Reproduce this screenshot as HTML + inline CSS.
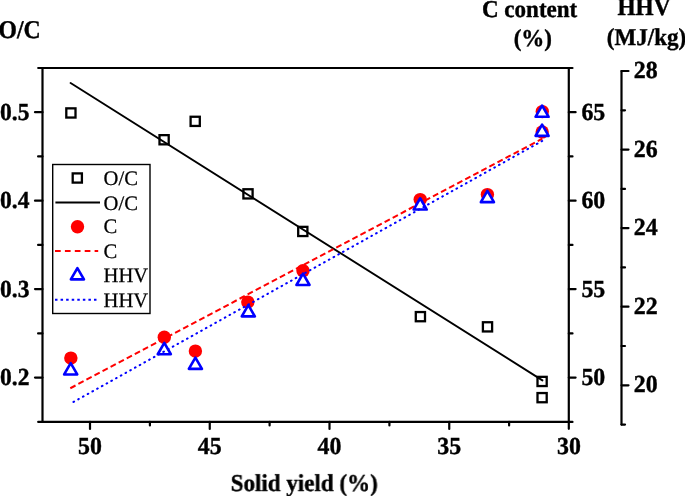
<!DOCTYPE html>
<html><head><meta charset="utf-8"><style>
html,body{margin:0;padding:0;background:#fff;width:685px;height:496px;overflow:hidden}
svg{display:block;will-change:transform}
text{text-rendering:geometricPrecision;font-family:"Liberation Serif",serif;font-weight:bold;font-size:24px;fill:#000;stroke:#000;stroke-width:0.4px}
text.lg{font-weight:normal;font-size:20.6px;stroke-width:0.25px}
</style></head><body>
<svg width="685" height="496" viewBox="0 0 685 496">
<g stroke="#000" stroke-width="2.2" stroke-linecap="round" fill="none">
<line x1="38.2" y1="68.0" x2="572.5" y2="68.0" />
<line x1="38.2" y1="421.9" x2="572.5" y2="421.9" />
<line x1="42.5" y1="68.0" x2="42.5" y2="421.9" />
<line x1="568.8" y1="68.0" x2="568.8" y2="428.8" />
<line x1="35" y1="112.2" x2="42.5" y2="112.2" />
<line x1="568.8" y1="112.2" x2="575.6" y2="112.2" />
<line x1="38.1" y1="156.4" x2="42.5" y2="156.4" />
<line x1="568.8" y1="156.4" x2="572.5" y2="156.4" />
<line x1="35" y1="200.7" x2="42.5" y2="200.7" />
<line x1="568.8" y1="200.7" x2="575.6" y2="200.7" />
<line x1="38.1" y1="244.9" x2="42.5" y2="244.9" />
<line x1="568.8" y1="244.9" x2="572.5" y2="244.9" />
<line x1="35" y1="289.1" x2="42.5" y2="289.1" />
<line x1="568.8" y1="289.1" x2="575.6" y2="289.1" />
<line x1="38.1" y1="333.4" x2="42.5" y2="333.4" />
<line x1="568.8" y1="333.4" x2="572.5" y2="333.4" />
<line x1="35" y1="377.6" x2="42.5" y2="377.6" />
<line x1="568.8" y1="377.6" x2="575.6" y2="377.6" />
<line x1="90.0" y1="421.9" x2="90.0" y2="429" />
<line x1="209.75" y1="421.9" x2="209.75" y2="429" />
<line x1="329.5" y1="421.9" x2="329.5" y2="429" />
<line x1="449.25" y1="421.9" x2="449.25" y2="429" />
<line x1="149.9" y1="421.9" x2="149.9" y2="425.5" />
<line x1="269.6" y1="421.9" x2="269.6" y2="425.5" />
<line x1="389.4" y1="421.9" x2="389.4" y2="425.5" />
<line x1="509.1" y1="421.9" x2="509.1" y2="425.5" />
<line x1="621.5" y1="71.0" x2="621.5" y2="424.6" />
<line x1="621.5" y1="71.0" x2="628.5" y2="71.0" />
<line x1="621.5" y1="149.6" x2="628.5" y2="149.6" />
<line x1="621.5" y1="228.1" x2="628.5" y2="228.1" />
<line x1="621.5" y1="306.7" x2="628.5" y2="306.7" />
<line x1="621.5" y1="385.3" x2="628.5" y2="385.3" />
<line x1="621.5" y1="110.3" x2="625" y2="110.3" />
<line x1="621.5" y1="188.9" x2="625" y2="188.9" />
<line x1="621.5" y1="267.4" x2="625" y2="267.4" />
<line x1="621.5" y1="346.0" x2="625" y2="346.0" />
<line x1="621.5" y1="424.6" x2="625" y2="424.6" />
</g>
<rect x="66.30" y="108.35" width="9.2" height="9.2" fill="#fff" stroke="#000" stroke-width="2.3"/>
<rect x="159.50" y="135.15" width="9.2" height="9.2" fill="#fff" stroke="#000" stroke-width="2.3"/>
<rect x="190.60" y="116.75" width="9.2" height="9.2" fill="#fff" stroke="#000" stroke-width="2.3"/>
<rect x="243.40" y="189.25" width="9.2" height="9.2" fill="#fff" stroke="#000" stroke-width="2.3"/>
<rect x="298.20" y="226.85" width="9.2" height="9.2" fill="#fff" stroke="#000" stroke-width="2.3"/>
<rect x="415.80" y="312.05" width="9.2" height="9.2" fill="#fff" stroke="#000" stroke-width="2.3"/>
<rect x="482.90" y="322.25" width="9.2" height="9.2" fill="#fff" stroke="#000" stroke-width="2.3"/>
<rect x="537.50" y="376.85" width="9.2" height="9.2" fill="#fff" stroke="#000" stroke-width="2.3"/>
<rect x="537.50" y="393.05" width="9.2" height="9.2" fill="#fff" stroke="#000" stroke-width="2.3"/>
<line x1="70.6" y1="83.0" x2="542.4" y2="380.4" stroke="#000" stroke-width="1.9" stroke-linecap="round"/>
<circle cx="70.85" cy="358.1" r="6.7" fill="#f00"/>
<circle cx="164.3" cy="337.2" r="6.7" fill="#f00"/>
<circle cx="195.4" cy="351.1" r="6.7" fill="#f00"/>
<circle cx="247.8" cy="302.1" r="6.7" fill="#f00"/>
<circle cx="303" cy="270.8" r="6.7" fill="#f00"/>
<circle cx="420.2" cy="199.6" r="6.7" fill="#f00"/>
<circle cx="487.4" cy="194.6" r="6.7" fill="#f00"/>
<circle cx="542.3" cy="111.6" r="6.7" fill="#f00"/>
<circle cx="542.2" cy="131.9" r="6.7" fill="#f00"/>
<line x1="70.3" y1="388.25" x2="542.3" y2="138.65" stroke="#f00" stroke-width="2" stroke-dasharray="5.9,3.217"/>
<path d="M70.70,363.15 L77.25,374.45 L64.15,374.45 Z" fill="#fff" stroke="#00f" stroke-width="2.6" stroke-linejoin="round"/>
<path d="M164.30,342.95 L170.85,354.25 L157.75,354.25 Z" fill="#fff" stroke="#00f" stroke-width="2.6" stroke-linejoin="round"/>
<path d="M195.40,357.55 L201.95,368.85 L188.85,368.85 Z" fill="#fff" stroke="#00f" stroke-width="2.6" stroke-linejoin="round"/>
<path d="M248.30,305.05 L254.85,316.35 L241.75,316.35 Z" fill="#fff" stroke="#00f" stroke-width="2.6" stroke-linejoin="round"/>
<path d="M303.00,273.70 L309.55,285.00 L296.45,285.00 Z" fill="#fff" stroke="#00f" stroke-width="2.6" stroke-linejoin="round"/>
<path d="M420.20,198.25 L426.75,209.55 L413.65,209.55 Z" fill="#fff" stroke="#00f" stroke-width="2.6" stroke-linejoin="round"/>
<path d="M487.40,190.85 L493.95,202.15 L480.85,202.15 Z" fill="#fff" stroke="#00f" stroke-width="2.6" stroke-linejoin="round"/>
<path d="M542.10,105.50 L548.65,116.80 L535.55,116.80 Z" fill="#fff" stroke="#00f" stroke-width="2.6" stroke-linejoin="round"/>
<path d="M542.10,124.55 L548.65,135.85 L535.55,135.85 Z" fill="#fff" stroke="#00f" stroke-width="2.6" stroke-linejoin="round"/>
<line x1="73.49" y1="401.97" x2="542.21" y2="140.93" stroke="#00f" stroke-width="2" stroke-dasharray="0.7,4.712" stroke-linecap="round"/>
<rect x="52.7" y="164.5" width="97.3" height="149" fill="#fff" stroke="#000" stroke-width="1.4"/>
<rect x="72.7" y="173.4" width="9.2" height="9.2" fill="none" stroke="#000" stroke-width="2.3"/>
<line x1="55.4" y1="202.4" x2="100" y2="202.4" stroke="#000" stroke-width="2"/>
<circle cx="77.5" cy="226.8" r="6.7" fill="#f00"/>
<line x1="55" y1="251" x2="98.2" y2="251" stroke="#f00" stroke-width="2" stroke-dasharray="5.7,4.2"/>
<path d="M77.40,268.05 L83.95,279.35 L70.85,279.35 Z" fill="#fff" stroke="#00f" stroke-width="2.6" stroke-linejoin="round"/>
<line x1="55" y1="299.8" x2="97" y2="299.8" stroke="#00f" stroke-width="2" stroke-dasharray="2.5,3.07"/>
<text x="103.6" y="185.2" class="lg">O/C</text>
<text x="103.6" y="209.6" class="lg">O/C</text>
<text x="103.6" y="233.3" class="lg">C</text>
<text x="103.6" y="257.7" class="lg">C</text>
<text x="103.6" y="282.4" class="lg">HHV</text>
<text x="103.6" y="307.2" class="lg">HHV</text>
<text transform="translate(29.4,119.8) scale(0.96,1)" style="font-size:24.5px;stroke-width:0.4px" text-anchor="end">0.5</text>
<text transform="translate(29.4,208.3) scale(0.96,1)" style="font-size:24.5px;stroke-width:0.4px" text-anchor="end">0.4</text>
<text transform="translate(29.4,296.7) scale(0.96,1)" style="font-size:24.5px;stroke-width:0.4px" text-anchor="end">0.3</text>
<text transform="translate(29.4,385.2) scale(0.96,1)" style="font-size:24.5px;stroke-width:0.4px" text-anchor="end">0.2</text>
<text transform="translate(581.4,119.9) scale(0.975,1)" style="font-size:24.5px;stroke-width:0.4px">65</text>
<text transform="translate(581.4,208.4) scale(0.975,1)" style="font-size:24.5px;stroke-width:0.4px">60</text>
<text transform="translate(581.4,296.8) scale(0.975,1)" style="font-size:24.5px;stroke-width:0.4px">55</text>
<text transform="translate(581.4,385.3) scale(0.975,1)" style="font-size:24.5px;stroke-width:0.4px">50</text>
<text transform="translate(633.8,78.0) scale(0.975,1)" style="font-size:24.5px;stroke-width:0.4px">28</text>
<text transform="translate(633.8,156.6) scale(0.975,1)" style="font-size:24.5px;stroke-width:0.4px">26</text>
<text transform="translate(633.8,235.1) scale(0.975,1)" style="font-size:24.5px;stroke-width:0.4px">24</text>
<text transform="translate(633.8,313.7) scale(0.975,1)" style="font-size:24.5px;stroke-width:0.4px">22</text>
<text transform="translate(633.8,392.3) scale(0.975,1)" style="font-size:24.5px;stroke-width:0.4px">20</text>
<text transform="translate(90.0,453.6) scale(0.975,1)" style="font-size:24.5px;stroke-width:0.4px" text-anchor="middle">50</text>
<text transform="translate(209.75,453.6) scale(0.975,1)" style="font-size:24.5px;stroke-width:0.4px" text-anchor="middle">45</text>
<text transform="translate(329.5,453.6) scale(0.975,1)" style="font-size:24.5px;stroke-width:0.4px" text-anchor="middle">40</text>
<text transform="translate(449.25,453.6) scale(0.975,1)" style="font-size:24.5px;stroke-width:0.4px" text-anchor="middle">35</text>
<text transform="translate(569.0,453.6) scale(0.975,1)" style="font-size:24.5px;stroke-width:0.4px" text-anchor="middle">30</text>
<text transform="translate(-1.5,38.0) scale(0.93,1)" style="font-size:25.5px;stroke-width:0.4px">O/C</text>
<text transform="translate(529.6,17.4) scale(0.952,1)" style="font-size:24.2px;stroke-width:0.4px" text-anchor="middle">C content</text>
<text transform="translate(532.8,46) scale(0.952,1)" style="font-size:24.2px;stroke-width:0.4px" text-anchor="middle">(%)</text>
<text transform="translate(644,15.2) scale(0.95,1)" style="font-size:24.5px;stroke-width:0.4px" text-anchor="middle">HHV</text>
<text transform="translate(646.5,44.7) scale(0.952,1)" style="font-size:24.2px;stroke-width:0.4px" text-anchor="middle">(MJ/kg)</text>
<text transform="translate(304.2,490.9) scale(0.952,1)" style="font-size:24.2px;stroke-width:0.4px" text-anchor="middle">Solid yield (%)</text>
</svg>
</body></html>
